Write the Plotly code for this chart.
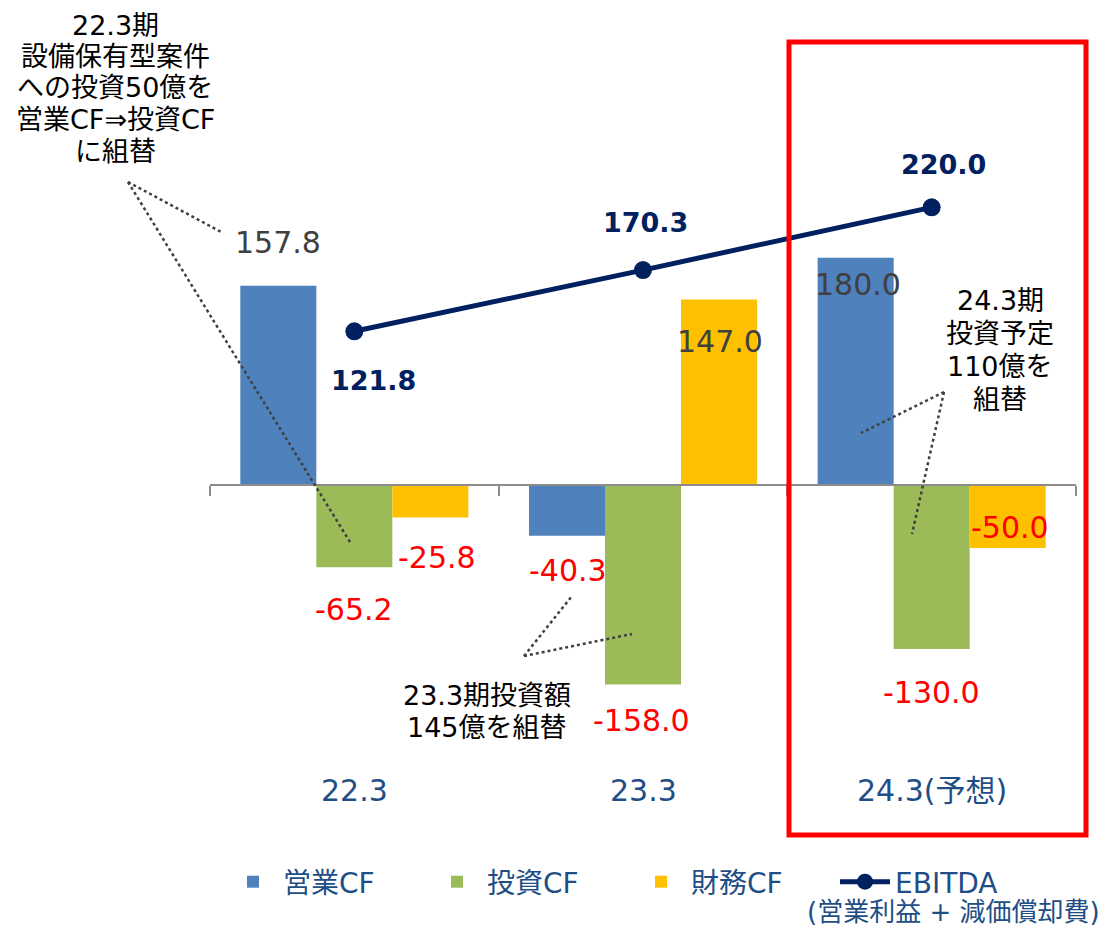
import plotly.graph_objects as go

# ---------------- data ----------------
categories = ["22.3", "23.3", "24.3(予想)"]
operating_cf = [157.8, -40.3, 180.0]
investing_cf = [-65.2, -158.0, -130.0]
financing_cf = [-25.8, 147.0, -50.0]
ebitda = [121.8, 170.3, 220.0]
series_names = ["営業CF", "投資CF", "財務CF", "EBITDA"]
ebitda_note = "(営業利益 + 減価償却費)"
callout_1 = ["22.3期", "設備保有型案件", "への投資50億を", "営業CF⇒投資CF", "に組替"]
callout_2 = ["23.3期投資額", "145億を組替"]
callout_3 = ["24.3期", "投資予定", "110億を", "組替"]

# ---------------- layout geometry (page pixels; body has an 8px margin) ----------------
OFF = 8
W, H = 1109 - 2 * OFF, 936 - 2 * OFF
PLOT_L, PLOT_R, PLOT_T, PLOT_B = 210, 1076, 20, 840          # page pixels
ML, MR, MT, MB = PLOT_L - OFF, W - (PLOT_R - OFF), PLOT_T - OFF, H - (PLOT_B - OFF)
PW, PH = W - ML - MR, H - MT - MB
ZERO_PX = 485
SCALE = 1.262
Y_MAX = (ZERO_PX - PLOT_T) / SCALE
Y_MIN = -(PLOT_B - ZERO_PX) / SCALE
BARGAP = 0.21
BW = (1 - BARGAP) / 3

COL_BLUE, COL_GREEN, COL_YEL, COL_NAVY = "#4F81BD", "#9BBB59", "#FFC000", "#002060"
TXT_BLUE = "#1F4E86"
FONT = "DejaVu Sans, Noto Sans CJK JP, sans-serif"


def px_y(p):
    return (ZERO_PX - p) / SCALE


def paper_x(p):
    return (p - PLOT_L) / PW


def paper_y(p):
    return (PLOT_B - p) / PH


xs = list(range(len(categories)))

fig = go.Figure()
for vals, name, col in [(operating_cf, series_names[0], COL_BLUE),
                        (investing_cf, series_names[1], COL_GREEN),
                        (financing_cf, series_names[2], COL_YEL)]:
    fig.add_trace(go.Bar(x=xs, y=vals, name=name, marker=dict(color=col, line=dict(width=0)),
                         hoverinfo="skip"))
fig.add_trace(go.Scatter(x=xs, y=ebitda, name=series_names[3], mode="lines+markers",
                         line=dict(color=COL_NAVY, width=5),
                         marker=dict(color=COL_NAVY, size=18), hoverinfo="skip"))

annotations = []
# bar value labels (pixel offsets from the bar end)
shifts = {
    0: [(0, 43), (1, -35), (2, -27)],
    1: [(0, -42), (-2, -36), (0, -43)],
    2: [(7, -40), (1, -42), (2, 21)],
}
for k, vals in enumerate([operating_cf, investing_cf, financing_cf]):
    for i, v in enumerate(vals):
        dx, dy = shifts[k][i]
        annotations.append(dict(
            x=i + (k - 1) * BW, y=v, xref="x", yref="y", text=f"{v:.1f}",
            showarrow=False, xshift=dx, yshift=dy,
            font=dict(size=30, color="#404040" if v > 0 else "#FF0000", family=FONT)))
# EBITDA labels
eb_shifts = [(19, -49), (2, 48), (12, 43)]
for i, v in enumerate(ebitda):
    dx, dy = eb_shifts[i]
    annotations.append(dict(
        x=i, y=v, xref="x", yref="y", text=f"<b>{v:.1f}</b>", showarrow=False,
        xshift=dx, yshift=dy, font=dict(size=27, color=COL_NAVY, family=FONT)))
# category labels
for i, c in enumerate(categories):
    annotations.append(dict(
        x=i, y=px_y(790), xref="x", yref="y", text=c, showarrow=False,
        font=dict(size=30, color=TXT_BLUE, family=FONT)))
# callouts, one annotation per line for tight line spacing
for lines, cx, cy0, step in [(callout_1, 115, 25, 31.5), (callout_2, 487, 695, 32.5),
                             (callout_3, 1000, 300, 33)]:
    for j, ln in enumerate(lines):
        annotations.append(dict(
            x=paper_x(cx), y=paper_y(cy0 + j * step), xref="paper", yref="paper", text=ln,
            showarrow=False, xanchor="center", yanchor="middle", borderpad=0,
            font=dict(size=27, color="#000000", family=FONT)))
# EBITDA note
annotations.append(dict(
    x=paper_x(1101), y=paper_y(912), xref="paper", yref="paper", text=ebitda_note,
    showarrow=False, xanchor="right", yanchor="middle", borderpad=0,
    font=dict(size=26, color=TXT_BLUE, family=FONT)))

shapes = []
leaders = [
    ((128, 182), (223, 233)), ((128, 182), (350, 542)),
    ((524, 656), (572, 596)), ((524, 656), (632, 634)),
    ((944, 392), (861, 433)), ((944, 392), (912, 534)),
]
for (x0, y0), (x1, y1) in leaders:
    shapes.append(dict(type="line", xref="paper", yref="paper",
                       x0=paper_x(x0), y0=paper_y(y0), x1=paper_x(x1), y1=paper_y(y1),
                       line=dict(color="#404040", width=2.5, dash="dot")))
# red highlight box
shapes.append(dict(type="rect", xref="paper", yref="paper",
                   x0=paper_x(789), x1=paper_x(1086), y0=paper_y(835), y1=paper_y(42),
                   line=dict(color="#FF0000", width=5), fillcolor="rgba(0,0,0,0)"))

zero_pos = (0 - Y_MIN) / (Y_MAX - Y_MIN)

fig.update_layout(
    width=W, height=H,
    margin=dict(l=ML, r=MR, t=MT, b=MB, autoexpand=False),
    paper_bgcolor="white", plot_bgcolor="white",
    barmode="group", bargap=BARGAP, bargroupgap=0,
    font=dict(family=FONT, color=TXT_BLUE),
    xaxis=dict(range=[-0.5, 2.5], showgrid=False, zeroline=False,
               anchor="free", position=zero_pos,
               showline=True, linecolor="#8C8C8C", linewidth=2,
               ticks="outside", tickvals=[-0.5, 0.5, 1.5, 2.5], ticklen=10,
               tickcolor="#8C8C8C", tickwidth=2, showticklabels=False),
    yaxis=dict(range=[Y_MIN, Y_MAX], visible=False, showgrid=False, zeroline=False),
    showlegend=True,
    legend=dict(orientation="h", x=paper_x(223), y=paper_y(857), xanchor="left", yanchor="top",
                font=dict(size=28, color=TXT_BLUE, family=FONT),
                entrywidth=139, entrywidthmode="pixels", itemwidth=50,
                bgcolor="rgba(0,0,0,0)"),
    annotations=annotations,
    shapes=shapes,
)

fig.write_html("out.html")
